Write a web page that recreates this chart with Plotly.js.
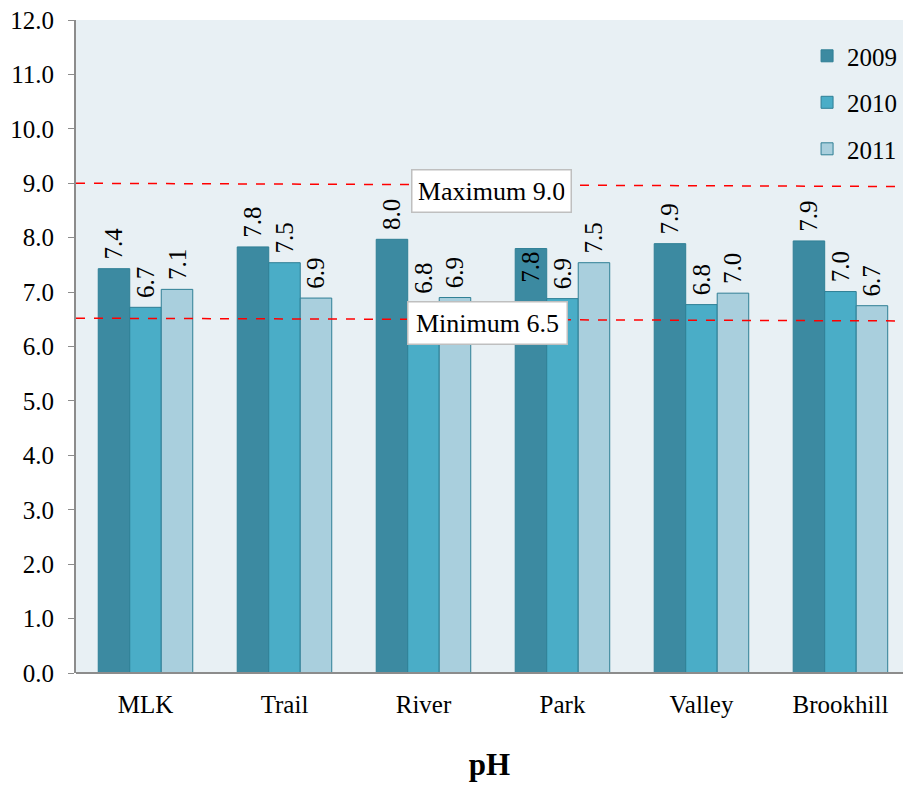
<!DOCTYPE html>
<html>
<head>
<meta charset="utf-8">
<script src="https://cdn.plot.ly/plotly-3.0.1.min.js"></script>
<style>html,body{margin:0;padding:0;background:#fff;}#chart{width:903px;height:785px;}</style>
</head>
<body>
<div id="chart"></div>
<script>
const sites = ["MLK", "Trail", "River", "Park", "Valley", "Brookhill"];
const years = ["2009", "2010", "2011"];
const ph2009 = [7.43, 7.83, 7.97, 7.80, 7.89, 7.94];
const ph2010 = [6.72, 7.54, 6.80, 6.88, 6.77, 7.01];
const ph2011 = [7.05, 6.89, 6.90, 7.54, 6.98, 6.75];
const label2009 = ["7.4", "7.8", "8.0", "7.8", "7.9", "7.9"];
const label2010 = ["6.7", "7.5", "6.8", "6.9", "6.8", "7.0"];
const label2011 = ["7.1", "6.9", "6.9", "7.5", "7.0", "6.7"];
const pos2009 = ["outside", "outside", "outside", "inside", "outside", "outside"];
const maxLimit = 9.0;
const minLimit = 6.5;
const yTicks = [0,1,2,3,4,5,6,7,8,9,10,11,12];

const FONT = "Liberation Serif, Times New Roman, serif";
const colors = ["#3c8aa1", "#4aadc7", "#a9cfdd"];
const edge = "#2f7f95";
const NB = "\u00a0";

const series = [[ph2009, label2009, pos2009], [ph2010, label2010, null], [ph2011, label2011, null]];
const traces = series.map((s, i) => ({
  type: "bar",
  name: years[i],
  x: sites,
  y: s[0],
  text: s[1].map((t, j) => (s[2] && s[2][j] === "inside") ? t : NB + t),
  textposition: s[2] || "outside",
  insidetextanchor: "end",
  textangle: -90,
  constraintext: "none",
  cliponaxis: false,
  textfont: {family: FONT, size: 25, color: "#000"},
  insidetextfont: {family: FONT, size: 25, color: "#000"},
  outsidetextfont: {family: FONT, size: 25, color: "#000"},
  marker: {color: colors[i], line: {color: edge, width: 1}},
  legendgroup: years[i],
  hoverinfo: "x+y+name"
}));

const layout = {
  width: 903, height: 785,
  margin: {l: 76, r: 0, t: 20, b: 112},
  paper_bgcolor: "#ffffff",
  plot_bgcolor: "#e8f0f4",
  font: {family: FONT, size: 25, color: "#000"},
  barmode: "group",
  bargap: 0.32,
  bargroupgap: 0,
  xaxis: {
    type: "category",
    range: [-0.5, 5.45],
    showgrid: false,
    zeroline: false,
    showline: false,
    ticks: "",
    ticklabelstandoff: 14,
    tickfont: {family: FONT, size: 25, color: "#000"},
    title: {text: "<b>pH</b>", font: {family: FONT, size: 31, color: "#000"}, standoff: 36}
  },
  yaxis: {
    range: [0, 12],
    tickvals: yTicks,
    ticktext: yTicks.map(v => v.toFixed(1)),
    showgrid: false,
    zeroline: false,
    showline: true,
    linecolor: "#8c8c8c",
    linewidth: 2,
    ticks: "outside",
    ticklen: 6,
    tickwidth: 1,
    tickcolor: "#8c8c8c",
    ticklabelstandoff: 9,
    tickfont: {family: FONT, size: 25, color: "#000"}
  },
  showlegend: true,
  legend: {
    x: 0.884, y: 0.98, xanchor: "left", yanchor: "top",
    bgcolor: "rgba(0,0,0,0)",
    font: {family: FONT, size: 25, color: "#000"},
    traceorder: "grouped",
    tracegroupgap: 11,
    itemwidth: 30
  },
  shapes: [
    {type: "line", xref: "paper", yref: "y", x0: 0, x1: 1, y0: maxLimit, y1: maxLimit - 0.06,
     line: {color: "#ff0000", width: 1.5, dash: "dash"}},
    {type: "line", xref: "paper", yref: "y", x0: 0, x1: 1, y0: minLimit + 0.02, y1: minLimit - 0.03,
     line: {color: "#ff0000", width: 1.5, dash: "dash"}},
    {type: "line", xref: "paper", yref: "paper", x0: 0, x1: 1, y0: 0, y1: 0,
     line: {color: "#8c8c8c", width: 2}}
  ],
  annotations: [
    {xref: "paper", yref: "y", x: 0.503, y: 8.86, text: "Maximum " + maxLimit.toFixed(1),
     showarrow: false, width: 146, align: "center", font: {family: FONT, size: 26, color: "#000"},
     bgcolor: "#ffffff", bordercolor: "#bfbfbf", borderwidth: 1.5, borderpad: 6},
    {xref: "paper", yref: "y", x: 0.497, y: 6.44, text: "Minimum " + minLimit.toFixed(1),
     showarrow: false, width: 146, align: "center", font: {family: FONT, size: 26, color: "#000"},
     bgcolor: "#ffffff", bordercolor: "#bfbfbf", borderwidth: 1.5, borderpad: 6}
  ]
};

Plotly.newPlot("chart", traces, layout, {displayModeBar: false, staticPlot: true});
</script>
</body>
</html>
